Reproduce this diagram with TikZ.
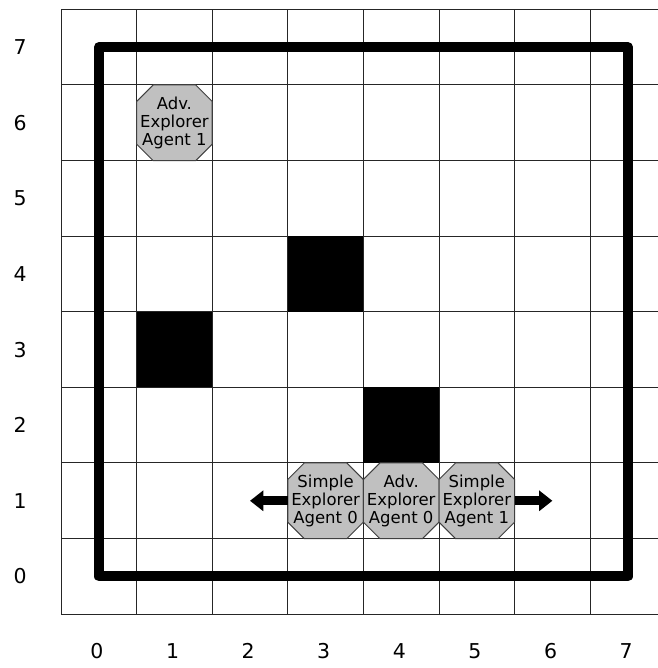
\documentclass[tikz,border=0pt]{standalone}
\usepackage{fontspec}
\setmainfont{DejaVu Sans}
\usetikzlibrary{arrows.meta}
\definecolor{agentgray}{HTML}{C0C0C0}
\definecolor{agentedge}{HTML}{404040}
\begin{document}
\begin{tikzpicture}[x=2cm,y=2cm,
 gridline/.style={black!85, line width=0.75pt},
 wall/.style={line width=7.5pt, line join=round, line cap=round},
 block/.style={fill=black},
 octa/.style={fill=agentgray, draw=agentedge, line width=0.75pt},
 agent/.style={minimum width=2cm, minimum height=2cm, inner sep=0pt, align=center, font=\fontsize{12.4}{13.7}\selectfont},
 axislabel/.style={font=\fontsize{15.4}{18}\selectfont, inner sep=0pt},
 push/.style={line width=6.5pt, -{Triangle[length=10pt,width=15pt]}}]
\useasboundingbox (-1.3069,-1.2117) rectangle (7.3968,7.6243);
\clip (-1.3069,-1.2117) rectangle (7.3968,7.6243);
\foreach \x in {-0.5,0.5,1.5,2.5,3.5,4.5,5.5,6.5} \draw[gridline] (\x,-0.5) -- (\x,7.5);
\foreach \y in {-0.5,0.5,1.5,2.5,3.5,4.5,5.5,6.5,7.5} \draw[gridline] (-0.5,\y) -- (7.4,\y);
\fill[block] (2.5,3.5) rectangle (3.5,4.5);
\fill[block] (0.5,2.5) rectangle (1.5,3.5);
\fill[block] (3.5,1.5) rectangle (4.5,2.5);
\draw[wall] (0,0) rectangle (7,7);
\def\octcut{0.218}
\foreach \x/\y in {1/6,3/1,4/1,5/1}
 \filldraw[octa] (\x-0.5+\octcut,\y-0.5) -- (\x+0.5-\octcut,\y-0.5) -- (\x+0.5,\y-0.5+\octcut) -- (\x+0.5,\y+0.5-\octcut) -- (\x+0.5-\octcut,\y+0.5) -- (\x-0.5+\octcut,\y+0.5) -- (\x-0.5,\y+0.5-\octcut) -- (\x-0.5,\y-0.5+\octcut) -- cycle;
\node[agent] (adv1) at (1,6) {Adv.\\Explorer\\Agent 1};
\node[agent] (sim0) at (3,1) {Simple\\Explorer\\Agent 0};
\node[agent] (adv0) at (4,1) {Adv.\\Explorer\\Agent 0};
\node[agent] (sim1) at (5,1) {Simple\\Explorer\\Agent 1};
\coordinate (leftend) at (2,1);
\coordinate (rightend) at (6,1);
\draw[push] (sim0.west) -- (leftend);
\draw[push] (sim1.east) -- (rightend);
\foreach \k in {0,...,7} {
 \node[axislabel] (row\k) at (-1.042,\k) {\k};
 \node[axislabel] (col\k) at (\k-0.025,-0.987) {\k};
}
\end{tikzpicture}
\end{document}
